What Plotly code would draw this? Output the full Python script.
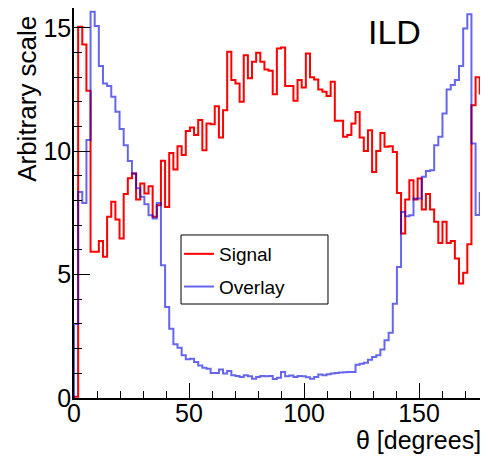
import plotly.graph_objects as go

# 100 bins of 1.8 degrees between 0 and 180
bin_lo = 0.0
bin_hi = 180.0
n_bins = 100

signal = [
    0.05, 15.04, 14.32, 12.45, 5.92, 5.92, 6.36, 5.72, 7.34, 7.95,
    7.23, 6.46, 8.26, 8.9, 9.1, 8.04, 8.69, 8.28, 8.58, 7.34,
    7.81, 9.61, 7.74, 9.93, 9.26, 10.2, 9.84, 10.82, 10.96, 10.65,
    11.26, 10.04, 11.12, 11.09, 11.82, 10.55, 11.66, 14.03, 12.88, 12.74,
    12.0, 13.89, 12.95, 13.62, 13.99, 13.62, 13.31, 13.26, 12.31, 14.16,
    14.2, 12.64, 12.64, 12.04, 12.88, 12.58, 13.96, 12.99, 12.9, 12.5,
    12.41, 12.23, 12.81, 11.23, 11.23, 10.58, 10.65, 11.12, 11.59, 10.55,
    10.01, 10.85, 9.16, 10.01, 10.74, 10.18, 10.2, 9.97, 8.31, 6.66,
    8.04, 8.82, 8.04, 8.89, 7.64, 8.26, 7.64, 7.14, 6.28, 7.14,
    6.28, 6.36, 5.65, 4.64, 5.07, 6.23, 11.86, 12.99, 12.34, 0.05,
]

overlay = [
    3.0, 8.35, 7.9, 10.45, 15.65, 15.07, 13.45, 12.74, 12.64, 12.2,
    11.6, 10.9, 10.24, 9.6, 9.1, 8.5, 8.15, 7.85, 7.4, 7.27,
    7.9, 5.38, 3.69, 2.81, 2.18, 2.04, 1.73, 1.57, 1.59, 1.46,
    1.32, 1.23, 1.19, 1.01, 1.01, 1.15, 0.99, 1.09, 0.92, 0.89,
    0.85, 0.92, 0.88, 0.78, 0.85, 0.89, 0.88, 0.89, 0.77, 0.82,
    1.05, 0.88, 0.91, 0.85, 0.89, 0.88, 0.84, 0.78, 0.85, 0.95,
    0.92, 0.96, 0.99, 1.01, 1.03, 1.04, 1.05, 1.05, 1.35, 1.39,
    1.43, 1.55, 1.66, 1.73, 1.96, 2.34, 2.64, 3.82, 5.31, 7.54,
    7.36, 7.4, 8.08, 8.08, 8.96, 9.2, 9.23, 10.24, 10.58, 11.53,
    12.5, 12.68, 12.88, 13.45, 14.97, 15.55, 10.31, 7.41, 8.31, 2.57,
]

x_ticks = [0, 50, 100, 150]
y_ticks = [0, 5, 10, 15]

width_bin = (bin_hi - bin_lo) / n_bins
edges = [bin_lo + i * width_bin for i in range(n_bins + 1)]


def step_outline(vals):
    xs = [edges[0]] + edges[:-1] + [edges[-1], edges[-1]]
    ys = [0.0] + list(vals) + [vals[-1], 0.0]
    return xs, ys


FONT = "Liberation Sans, Arial, Helvetica, sans-serif"

fig = go.Figure()
sx, sy = step_outline(signal)
ox, oy = step_outline(overlay)
fig.add_trace(go.Scatter(x=sx, y=sy, mode="lines", name="Signal",
                         line=dict(color="#ff0000", width=2, shape="hv"),
                         legendgroup="s"))
fig.add_trace(go.Scatter(x=ox, y=oy, mode="lines", name="Overlay",
                         line=dict(color="rgba(0,0,225,0.6)", width=2, shape="hv"),
                         legendgroup="o"))

axis_common = dict(showgrid=False, zeroline=False, showline=True, linecolor="black",
                   linewidth=1.5, mirror=True, ticks="inside", tickcolor="black",
                   tickwidth=1, automargin=False,
                   tickfont=dict(family=FONT, size=25, color="black"))

fig.update_xaxes(range=[bin_lo, bin_hi], tickvals=x_ticks, ticklen=15, ticklabelstandoff=-8,
                 minor=dict(dtick=10, ticks="inside", ticklen=7, tickcolor="black", tickwidth=1),
                 **axis_common)
fig.update_yaxes(range=[0, 15.8], tickvals=y_ticks, ticklen=16, ticklabelstandoff=-4,
                 minor=dict(dtick=1, ticks="inside", ticklen=8, tickcolor="black", tickwidth=1),
                 **axis_common)

fig.add_annotation(text="θ [degrees]", xref="paper", yref="paper", x=0.988, y=-0.108,
                   xanchor="right", yanchor="middle", showarrow=False,
                   font=dict(family=FONT, size=25, color="black"))
fig.add_annotation(text="Arbitrary scale", xref="paper", yref="paper", x=-0.1135, y=0.985,
                   xanchor="center", yanchor="top", textangle=-90, showarrow=False,
                   font=dict(family=FONT, size=26, color="black"))
fig.add_annotation(text="ILD", xref="paper", yref="paper", x=0.775, y=0.938,
                   xanchor="center", yanchor="middle", showarrow=False,
                   font=dict(family=FONT, size=34, color="black"))

# legend frame
fig.add_shape(type="rect", xref="paper", yref="paper",
              x0=0.2585, x1=0.6135, y0=0.241, y1=0.418,
              line=dict(color="black", width=1), fillcolor="white", layer="below")

fig.update_layout(
    width=480, height=448,
    margin=dict(l=66, r=0, t=0, b=58, autoexpand=False),
    paper_bgcolor="white", plot_bgcolor="rgba(0,0,0,0)",
    showlegend=True,
    legend=dict(x=0.2536, y=0.418, xanchor="left", yanchor="top",
                bgcolor="rgba(0,0,0,0)", borderwidth=0,
                font=dict(family=FONT, size=19, color="black"),
                tracegroupgap=5, itemwidth=30),
)

fig.write_html("out.html")
